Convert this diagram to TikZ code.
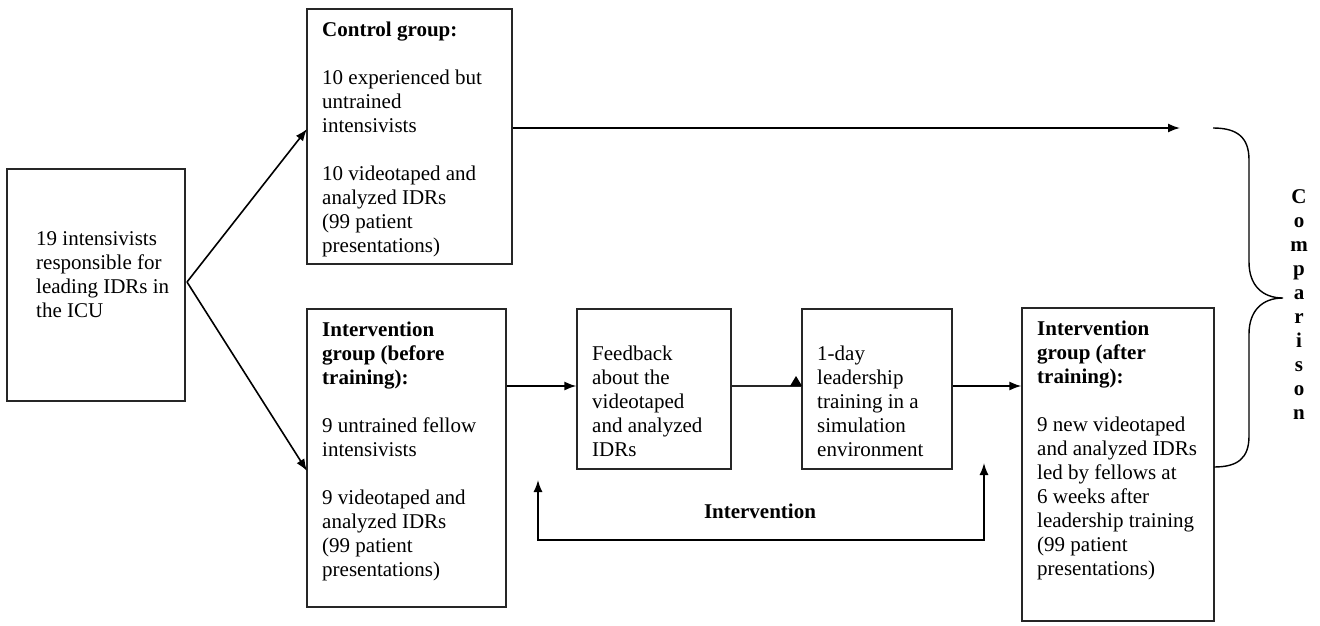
\documentclass[tikz,border=0pt]{standalone}
\usepackage{fontspec}
\setmainfont{Liberation Serif}
\usetikzlibrary{arrows.meta}
\begin{document}
\begin{tikzpicture}[x=1pt,y=-1pt,
  box/.style={draw=black!85,line width=1.3pt,inner sep=0pt},
  txt/.style={inner sep=0pt,anchor=north west,align=left,font=\fontsize{21}{24}\selectfont},
  conn/.style={line width=1.6pt,-{Latex[length=12pt,width=9pt]}},
  plain/.style={line width=1.3pt,draw=black!85},
  bothup/.style={line width=1.5pt,{Latex[length=12pt,width=9pt]}-{Latex[length=12pt,width=9pt]}}
]
\useasboundingbox (0,0) rectangle (1320,626);
% boxes
\node[box,minimum width=178pt,minimum height=232pt] (A) at (96,285) {};
\node[box,minimum width=205pt,minimum height=255pt] (B) at (409.5,136.5) {};
\node[box,minimum width=199pt,minimum height=298pt] (C) at (406.5,458) {};
\node[box,minimum width=154pt,minimum height=160pt] (D) at (654,389) {};
\node[box,minimum width=150pt,minimum height=160pt] (E) at (877,389) {};
\node[box,minimum width=192pt,minimum height=313pt] (F) at (1118,464.5) {};
% texts
\node[txt] (At) at (36,231) {19 intensivists\\responsible for\\leading IDRs in\\the ICU};
\node[txt] (Bt) at (322,22) {\textbf{Control group:}\\[24pt]10 experienced but\\untrained\\intensivists\\[24pt]10 videotaped and\\analyzed IDRs\\(99 patient\\presentations)};
\node[txt] (Ct) at (322,322) {\textbf{Intervention}\\\textbf{group (before}\\\textbf{training):}\\[24pt]9 untrained fellow\\intensivists\\[24pt]9 videotaped and\\analyzed IDRs\\(99 patient\\presentations)};
\node[txt] (Dt) at (592,346) {Feedback\\about the\\videotaped\\and analyzed\\IDRs};
\node[txt] (Et) at (817,346) {1-day\\leadership\\training in a\\simulation\\environment};
\node[txt] (Ft) at (1037,321) {\textbf{Intervention}\\\textbf{group (after}\\\textbf{training):}\\[24pt]9 new videotaped\\and analyzed IDRs\\led by fellows at\\6 weeks after\\leadership training\\(99 patient\\presentations)};
\node[inner sep=0pt,anchor=north,align=center,font=\fontsize{21}{24}\selectfont\bfseries] (cmp) at (1299,189) {C\\o\\m\\p\\a\\r\\i\\s\\o\\n};
\node[inner sep=0pt,anchor=base,font=\fontsize{21}{24}\selectfont\bfseries] (iv) at (760,518) {Intervention};
% coordinates
\coordinate (a1) at (187,282);
\coordinate (bIn) at (307,129);
\coordinate (cIn) at (307,471);
\coordinate (ctrlEnd) at (1180,128);
\coordinate (l1) at (538,480);
\coordinate (l2) at (538,540);
\coordinate (l3) at (984,540);
\coordinate (l4) at (984,463);
\coordinate (br0) at (1213,128);
\coordinate (brTip) at (1283,298);
\coordinate (br1) at (1214,467);
% connectors
\draw[conn] (a1) -- (bIn);
\draw[conn] (a1) -- (cIn);
\draw[conn] (B.east |- ctrlEnd) -- (ctrlEnd);
\draw[conn] (C.east |- 0,386) -- (D.west |- 0,386);
\draw[plain] (D.east |- 0,386) -- (E.west |- 0,386);
\fill[black] (790,386) -- (802,386) -- (796,376) -- cycle;
\draw[conn] (E.east |- 0,386) -- (F.west |- 0,386);
\draw[bothup] (l1) -- (l2) -- (l3) -- (l4);
% brace
\draw[line width=1.4pt] (br0) .. controls (1238,128) and (1249,138) .. (1249,160)
  -- (1249,262) .. controls (1249,285) and (1262,298) .. (brTip)
  .. controls (1262,298) and (1249,311) .. (1249,334)
  -- (1249,436) .. controls (1249,458) and (1238,467) .. (br1);
\end{tikzpicture}
\end{document}
